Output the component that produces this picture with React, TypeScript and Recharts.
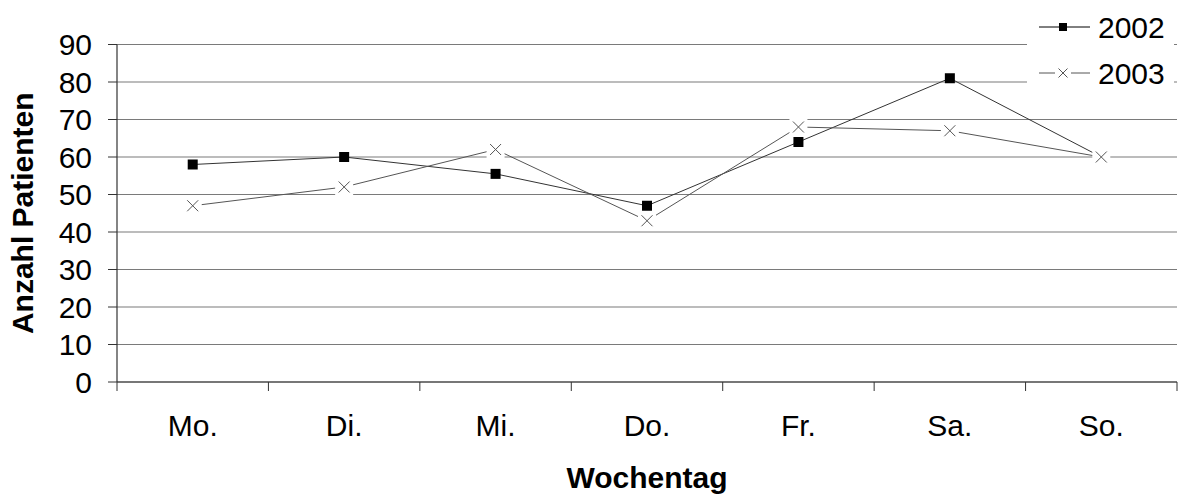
import React from 'react';
import { LineChart, Line, XAxis, YAxis, CartesianGrid, Label } from 'recharts';

const days = ['Mo.', 'Di.', 'Mi.', 'Do.', 'Fr.', 'Sa.', 'So.'];
const patients2002 = [58, 60, 55.5, 47, 64, 81, 60];
const patients2003 = [47, 52, 62, 43, 68, 67, 60];
const yTicks = [0, 10, 20, 30, 40, 50, 60, 70, 80, 90];
const seriesNames = ['2002', '2003'];

const data = days.map((d, i) => ({ day: d, y2002: patients2002[i], y2003: patients2003[i] }));

const W = 1178;
const H = 494;
const FONT = '"Liberation Sans", Arial, Helvetica, sans-serif';
const FS = 30;
const PLOT_LEFT = 117;
const PLOT_RIGHT = 1177;
const HALF_BAND = (PLOT_RIGHT - PLOT_LEFT) / days.length / 2;
const AXIS = '#333';
const GRID = '#7a7a7a';

const DayTick = (props: any) => {
  const { x, y, payload, index } = props;
  return (
    <g>
      <line x1={x - HALF_BAND} x2={x - HALF_BAND} y1={y} y2={y + 9} stroke={AXIS} strokeWidth={1} />
      {index === days.length - 1 && (
        <line x1={x + HALF_BAND} x2={x + HALF_BAND} y1={y} y2={y + 9} stroke={AXIS} strokeWidth={1} />
      )}
      <text x={x} y={y + 33} dy="0.71em" textAnchor="middle" fontFamily={FONT} fontSize={FS} fill="#000">
        {payload.value}
      </text>
    </g>
  );
};

const SquareDot = (p: any) => {
  const { cx, cy } = p;
  if (cx == null || cy == null) return null;
  return <rect x={cx - 5} y={cy - 5} width={10} height={10} fill="#000" />;
};

const CrossDot = (p: any) => {
  const { cx, cy } = p;
  if (cx == null || cy == null) return null;
  const a = 5.5;
  return (
    <g>
      <rect x={cx - 9} y={cy - 9} width={18} height={18} fill="#fff" />
      <path
        d={`M${cx - a},${cy - a}L${cx + a},${cy + a}M${cx + a},${cy - a}L${cx - a},${cy + a}`}
        stroke="#555"
        strokeWidth={1}
        fill="none"
      />
    </g>
  );
};

const LegendBox = () => (
  <svg width={147} height={100} style={{ display: 'block', background: '#fff' }}>
    <line x1={12} x2={63} y1={27} y2={27} stroke="#000" strokeWidth={1} />
    <rect x={32} y={23} width={8} height={8} fill="#000" />
    <text x={71} y={27} dy="0.355em" fontFamily={FONT} fontSize={FS} fill="#000">{seriesNames[0]}</text>
    <line x1={12} x2={63} y1={73} y2={73} stroke="#555" strokeWidth={1} />
    <rect x={28} y={65} width={16} height={16} fill="#fff" />
    <path d="M31.5,68.5L40.5,77.5M40.5,68.5L31.5,77.5" stroke="#555" strokeWidth={1} fill="none" />
    <text x={71} y={73} dy="0.355em" fontFamily={FONT} fontSize={FS} fill="#000">{seriesNames[1]}</text>
  </svg>
);

const YTitle = (props: any) => {
  const vb = props.viewBox || { x: 0, y: 44.5, width: 117, height: 337.5 };
  const cx = 33;
  const cy = vb.y + vb.height / 2;
  return (
    <text
      x={cx}
      y={cy}
      transform={`rotate(-90 ${cx} ${cy})`}
      textAnchor="middle"
      fontFamily={FONT}
      fontWeight="bold"
      fontSize={FS}
      fill="#000"
    >
      Anzahl Patienten
    </text>
  );
};

const XTitle = (props: any) => {
  const vb = props.viewBox || { x: 117, y: 382, width: 1060, height: 112 };
  return (
    <text
      x={vb.x + vb.width / 2}
      y={vb.y + 106}
      textAnchor="middle"
      fontFamily={FONT}
      fontWeight="bold"
      fontSize={FS}
      fill="#000"
    >
      Wochentag
    </text>
  );
};

export default function App() {
  return (
    <div style={{ position: 'absolute', left: 0, top: 0, width: W, height: H, background: '#fff' }}>
      <LineChart width={W} height={H} data={data} margin={{ top: 44.5, right: 1, bottom: 0, left: 0 }}>
        <CartesianGrid horizontal vertical={false} stroke={GRID} strokeWidth={1.2} />
        <XAxis
          dataKey="day"
          height={112}
          padding={{ left: HALF_BAND, right: HALF_BAND }}
          tickSize={0}
          tickMargin={0}
          tickLine={false}
          axisLine={{ stroke: AXIS, strokeWidth: 1.2 }}
          tick={<DayTick />}
          interval={0}
        >
          <Label content={<XTitle />} />
        </XAxis>
        <YAxis
          domain={[0, 90]}
          ticks={yTicks}
          width={117}
          tickSize={9}
          tickMargin={16}
          interval={0}
          axisLine={{ stroke: AXIS, strokeWidth: 1.2 }}
          tickLine={{ stroke: AXIS, strokeWidth: 1 }}
          tick={{ fontFamily: FONT, fontSize: FS, fill: '#000' }}
        >
          <Label content={<YTitle />} />
        </YAxis>
        <YAxis
          yAxisId="right"
          orientation="right"
          width={0}
          domain={[0, 90]}
          tick={false}
          tickLine={false}
          axisLine={{ stroke: '#666', strokeWidth: 1 }}
        />
        <Line
          type="linear"
          dataKey="y2002"
          name={seriesNames[0]}
          stroke="#333"
          strokeWidth={1}
          dot={<SquareDot />}
          activeDot={false}
          isAnimationActive={false}
        />
        <Line
          type="linear"
          dataKey="y2003"
          name={seriesNames[1]}
          stroke="#555"
          strokeWidth={1}
          dot={<CrossDot />}
          activeDot={false}
          isAnimationActive={false}
        />
      </LineChart>
      <div style={{ position: 'absolute', left: 1027, top: 0, width: 147, height: 100, background: '#fff' }}>
        <LegendBox />
      </div>
    </div>
  );
}
